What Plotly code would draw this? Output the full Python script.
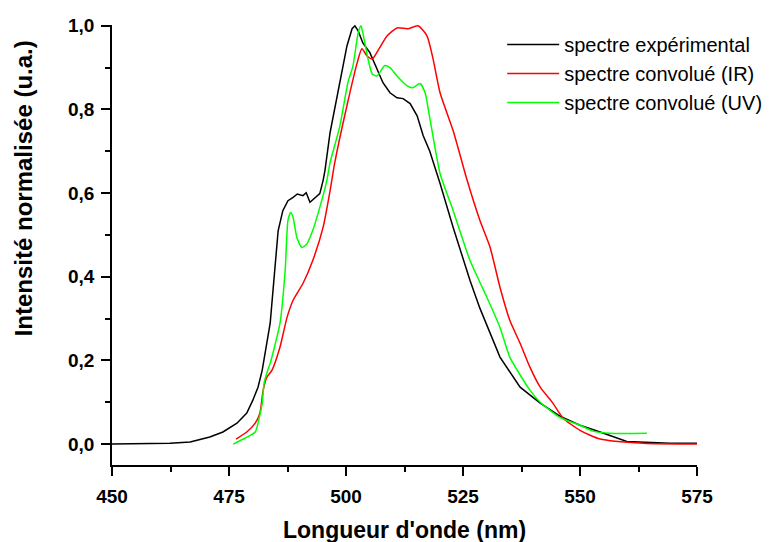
import plotly.graph_objects as go

# spectre expérimental
exp_nm = [450, 458.1, 462.4, 466.7, 470.9, 473.7, 476.7, 478.8, 480.1, 481.2, 482.1,
          483.8, 484.8, 485.5, 486.5, 487.6, 488.7, 489.6, 490.8, 491.5, 492.3, 493.2,
          494.4, 495.1, 495.5, 496.6, 498.7, 500.2, 501.3, 501.9, 502.6, 503.6, 505.1,
          506.6, 507.9, 509.4, 510.9, 512.2, 513.7, 515.2, 516.5, 517.9, 520.1, 522.9,
          526.5, 528.6, 532.9, 537.2, 541.5, 545.7, 550, 554.3, 560, 569.2, 575]
exp_int = [0, 0.001, 0.002, 0.005, 0.017, 0.029, 0.05, 0.074, 0.105, 0.136, 0.177,
           0.289, 0.415, 0.51, 0.558, 0.582, 0.59, 0.598, 0.594, 0.601, 0.578, 0.588,
           0.599, 0.63, 0.654, 0.745, 0.864, 0.952, 0.993, 1.0, 0.988, 0.959, 0.936,
           0.897, 0.864, 0.84, 0.828, 0.826, 0.814, 0.785, 0.737, 0.70, 0.623, 0.518,
           0.391, 0.325, 0.208, 0.136, 0.098, 0.067, 0.045, 0.029, 0.006, 0.002, 0.002]

# spectre convolué (IR)
ir_nm = [476.5, 478.8, 480.6, 481.6, 482.3, 483.1, 484.2, 485.9, 487.4, 488.7, 490.8,
         492.9, 495.1, 496.6, 497.6, 500.2, 502.4, 503.4, 504.5, 505.6, 506.8, 508.8,
         510.9, 513.2, 515.4, 517.3, 518.6, 520.1, 522.9, 525.9, 528.6, 530.8, 532.9,
         535.0, 537.2, 539.3, 541.5, 544.2, 546.4, 550, 554.3, 563.5, 575]
ir_int = [0.012, 0.029, 0.05, 0.074, 0.129, 0.16, 0.177, 0.232, 0.303, 0.344, 0.384,
          0.439, 0.518, 0.606, 0.673, 0.809, 0.912, 0.945, 0.928, 0.921, 0.940, 0.976,
          0.995, 0.993, 1.0, 0.976, 0.921, 0.84, 0.749, 0.63, 0.535, 0.47, 0.375,
          0.296, 0.241, 0.184, 0.136, 0.098, 0.062, 0.033, 0.012, 0.002, 0.0]

# spectre convolué (UV)
uv_nm = [475.9, 478.4, 480.6, 481.2, 482.1, 482.5, 483.3, 483.8, 485.9, 487.0, 487.6,
         488.2, 488.7, 489.5, 490.6, 491.7, 492.9, 494.4, 495.9, 496.6, 498.7, 500.4,
         501.5, 502.6, 503.2, 503.6, 504.7, 505.6, 506.6, 508.3, 509.4, 510.9, 513.0,
         514.3, 515.8, 516.9, 517.9, 520.1, 522.9, 526.5, 528.6, 530.1, 532.9, 535.0,
         539.3, 541.5, 545.7, 550, 552.8, 556.4, 564.3]
uv_int = [0.0, 0.014, 0.029, 0.05, 0.098, 0.146, 0.177, 0.193, 0.289, 0.415, 0.535,
          0.554, 0.542, 0.494, 0.47, 0.48, 0.511, 0.566, 0.63, 0.673, 0.761, 0.864,
          0.905, 0.983, 1.0, 0.983, 0.921, 0.885, 0.88, 0.905, 0.9, 0.88, 0.857,
          0.852, 0.862, 0.84, 0.78, 0.647, 0.558, 0.439, 0.387, 0.351, 0.279, 0.208,
          0.129, 0.10, 0.064, 0.045, 0.031, 0.026, 0.026]

x_ticks = [450, 475, 500, 525, 550, 575]
x_minor = [462.5, 487.5, 512.5, 537.5, 562.5]
y_ticks = [0.0, 0.2, 0.4, 0.6, 0.8, 1.0]
y_ticktext = ["0,0", "0,2", "0,4", "0,6", "0,8", "1,0"]
y_minor = [0.1, 0.3, 0.5, 0.7, 0.9]

font = "Liberation Sans, Arial, sans-serif"

fig = go.Figure()
fig.add_trace(go.Scatter(x=exp_nm, y=exp_int, mode="lines", name="spectre expérimental",
                         line=dict(color="black", width=1.5)))
fig.add_trace(go.Scatter(x=ir_nm, y=ir_int, mode="lines", name="spectre convolué (IR)",
                         line=dict(color="#ff0000", width=1.5, shape="spline", smoothing=0.6)))
fig.add_trace(go.Scatter(x=uv_nm, y=uv_int, mode="lines", name="spectre convolué (UV)",
                         line=dict(color="#00ff00", width=1.5, shape="spline", smoothing=0.6)))

axis_common = dict(showgrid=False, zeroline=False, showline=True, linecolor="black",
                   linewidth=1.5, ticks="outside", ticklen=9, tickwidth=1.5,
                   tickcolor="black",
                   tickfont=dict(family=font, size=19, color="black", weight="bold"))

fig.update_xaxes(range=[450, 575], tickvals=x_ticks, ticktext=[str(v) for v in x_ticks],
                 ticklabelstandoff=4,
                 minor=dict(tickvals=x_minor, ticks="outside", ticklen=5, tickwidth=1.5,
                            tickcolor="black"),
                 **axis_common)
fig.update_yaxes(range=[-0.05, 1.002], tickvals=y_ticks, ticktext=y_ticktext,
                 ticklabelstandoff=3,
                 minor=dict(tickvals=y_minor, ticks="outside", ticklen=5, tickwidth=1.5,
                            tickcolor="black"),
                 **axis_common)

fig.add_annotation(text="Longueur d'onde (nm)", xref="paper", yref="paper",
                   x=0.5, y=-0.148, xanchor="center", yanchor="middle", showarrow=False,
                   font=dict(family=font, size=23, color="black", weight="bold"))
fig.add_annotation(text="Intensité normalisée (u.a.)", xref="paper", yref="paper",
                   x=-0.151, y=0.628, xanchor="center", yanchor="middle", showarrow=False,
                   textangle=-90,
                   font=dict(family=font, size=24, color="black", weight="bold"))

# la page ajoute une marge de 8 px autour de la figure
fig.update_layout(width=772, height=534, plot_bgcolor="white", paper_bgcolor="white",
                  margin=dict(l=104, r=83, t=17, b=77, autoexpand=False),
                  legend=dict(x=0.667, y=1.0, xanchor="left", yanchor="top",
                              bgcolor="rgba(0,0,0,0)", itemwidth=52,
                              font=dict(family=font, size=20, color="black")),
                  font=dict(family=font))

fig.write_html("out.html")
